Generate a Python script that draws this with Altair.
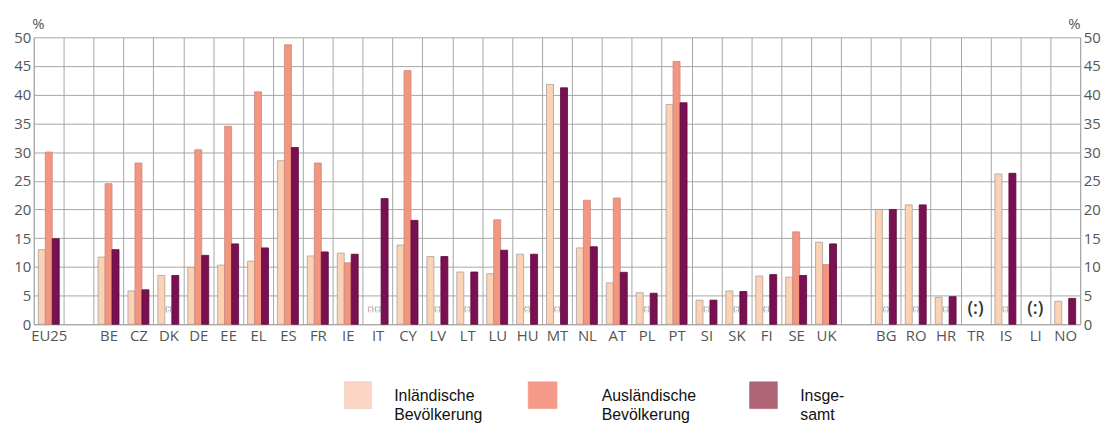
import altair as alt
import pandas as pd

countries = ["EU25", " ", "BE", "CZ", "DK", "DE", "EE", "EL", "ES", "FR", "IE", "IT", "CY",
             "LV", "LT", "LU", "HU", "MT", "NL", "AT", "PL", "PT", "SI", "SK", "FI", "SE", "UK",
             "  ", "BG", "RO", "HR", "TR", "IS", "LI", "NO"]
inlaendisch = [13.0, None, 11.7, 5.8, 8.5, 9.9, 10.3, 11.0, 28.5, 11.9, 12.4, None, 13.8,
               11.8, 9.1, 8.8, 12.2, 41.8, 13.3, 7.2, 5.5, 38.3, 4.2, 5.8, 8.4, 8.2, 14.3,
               None, 20.0, 20.8, 4.7, None, 26.2, None, 4.0]
auslaendisch = [30.0, None, 24.5, 28.1, None, 30.4, 34.5, 40.5, 48.7, 28.1, 10.7, None, 44.2,
                None, None, 18.2, None, None, 21.6, 22.0, None, 45.8, None, None, None, 16.1, 10.4,
                None, None, None, None, None, None, None, None]
insgesamt = [14.9, None, 13.0, 6.0, 8.5, 12.0, 14.0, 13.3, 30.8, 12.6, 12.2, 21.9, 18.1,
             11.8, 9.1, 12.9, 12.2, 41.2, 13.5, 9.05, 5.4, 38.6, 4.2, 5.7, 8.65, 8.5, 14.0,
             None, 20.0, 20.8, 4.8, None, 26.3, None, 4.5]

series = ["Inländische Bevölkerung", "Ausländische Bevölkerung", "Insgesamt"]
bar_colors = ["#FCD2B4", "#F3957F", "#7A1052"]
bar_strokes = ["#A8A0A0", "#C98A80", "#5A0A3A"]
legend_colors = ["#FDD5C5", "#F59A88", "#AE6475"]

# missing values shown as small "(:)" (country, series)
missing_small = [("DK", 1), ("IT", 0), ("IT", 1), ("LV", 1), ("LT", 1), ("HU", 1), ("MT", 1),
                 ("PL", 1), ("SI", 1), ("SK", 1), ("FI", 1), ("BG", 1), ("RO", 1), ("HR", 1),
                 ("IS", 1)]
missing_big = ["TR", "LI"]

rows = []
for i, c in enumerate(countries):
    for s, vals in zip(series, [inlaendisch, auslaendisch, insgesamt]):
        if vals[i] is not None:
            rows.append({"land": c, "serie": s, "wert": vals[i]})
df = pd.DataFrame(rows)
df_small = pd.DataFrame([{"land": c, "serie": series[k], "t": "(:)"} for c, k in missing_small])
df_big = pd.DataFrame([{"land": c, "t": "(:)"} for c in missing_big])

GRID = "#A6A6A6"
AXFONT = "Open Sans"

x_enc = alt.X("land:N", sort=countries, scale=alt.Scale(domain=countries, paddingInner=0, paddingOuter=0),
              axis=alt.Axis(title=None, tickBand="extent", grid=True, ticks=False, labelAngle=0,
                            labelPadding=4, labelFont=AXFONT, labelFontSize=15, labelColor="#555555",
                            domainColor=GRID, gridColor=GRID))
xo_enc = alt.XOffset("serie:N", sort=series, scale=alt.Scale(domain=series, paddingInner=0, paddingOuter=0.64))
yscale = alt.Scale(domain=[0, 50], nice=False)

bars = alt.Chart(df).mark_bar(strokeWidth=0.8).encode(
    x=x_enc,
    xOffset=xo_enc,
    y=alt.Y("wert:Q", scale=yscale,
            axis=alt.Axis(title="%", titleAngle=0, titleX=-2, titleY=-9, titleAlign="left",
                          titleBaseline="alphabetic", titleFont=AXFONT, titleFontSize=15,
                          titleFontWeight="normal", titleColor="#555555",
                          values=list(range(0, 51, 5)), grid=True, ticks=False, labelPadding=3,
                          labelFont=AXFONT, labelFontSize=15, labelColor="#555555",
                          domainColor=GRID, gridColor=GRID)),
    color=alt.Color("serie:N", sort=series, scale=alt.Scale(domain=series, range=bar_colors), legend=None),
    stroke=alt.Stroke("serie:N", sort=series, scale=alt.Scale(domain=series, range=bar_strokes), legend=None),
)

right_axis = alt.Chart(df).mark_bar(opacity=0).encode(
    x=alt.X("land:N", sort=countries),
    y=alt.Y("wert:Q", scale=yscale,
            axis=alt.Axis(title="%", orient="right", titleAngle=0, titleX=0, titleY=-9, titleAlign="right",
                          titleBaseline="alphabetic", titleFont=AXFONT, titleFontSize=15,
                          titleFontWeight="normal", titleColor="#555555",
                          values=list(range(0, 51, 5)), grid=False, ticks=False, labelPadding=3,
                          labelFont=AXFONT, labelFontSize=15, labelColor="#555555",
                          domainColor=GRID)),
)

small = alt.Chart(df_small).mark_text(fontSize=7, color="#666666", font=AXFONT).encode(
    x=alt.X("land:N", sort=countries),
    xOffset=alt.XOffset("serie:N", sort=series),
    y=alt.YDatum(2.6, axis=None),
    text="t:N",
)

big = alt.Chart(df_big).mark_text(fontSize=18, color="#333333", font=AXFONT, fontWeight=600).encode(
    x=alt.X("land:N", sort=countries),
    y=alt.YDatum(2.7, axis=None),
    text="t:N",
)

one = alt.Data(values=[{"a": 1}])
legend_layers = []
sw_x = [313, 498, 721]
sw_w = [27, 29, 28]
tx_x = [363, 572, 772]
labels = [["Inländische", "Bevölkerung"], ["Ausländische", "Bevölkerung"], ["Insge-", "samt"]]
for i in range(3):
    legend_layers.append(
        alt.Chart(one).mark_rect(color=legend_colors[i], stroke="#E0C8C0" if i == 0 else legend_colors[i],
                                 strokeWidth=0.6).encode(
            x=alt.value(sw_x[i]), x2=alt.value(sw_x[i] + sw_w[i]), y=alt.value(347), y2=alt.value(374))
    )
    legend_layers.append(
        alt.Chart(one).mark_text(align="left", baseline="alphabetic", font="Liberation Sans", fontSize=16,
                                 lineHeight=19, color="#111111").encode(
            x=alt.value(tx_x[i]), y=alt.value(366), text=alt.value(labels[i]))
    )

chart = alt.layer(bars, right_axis, small, big, *legend_layers).resolve_axis(y="independent").properties(
    width=1054, height=289,
    padding={"left": 26, "top": 28, "right": 22, "bottom": 104},
    autosize=alt.AutoSizeParams(type="none"),
).configure_view(stroke=None)

chart.save("out.html", embed_options={"renderer": "svg", "actions": False})
